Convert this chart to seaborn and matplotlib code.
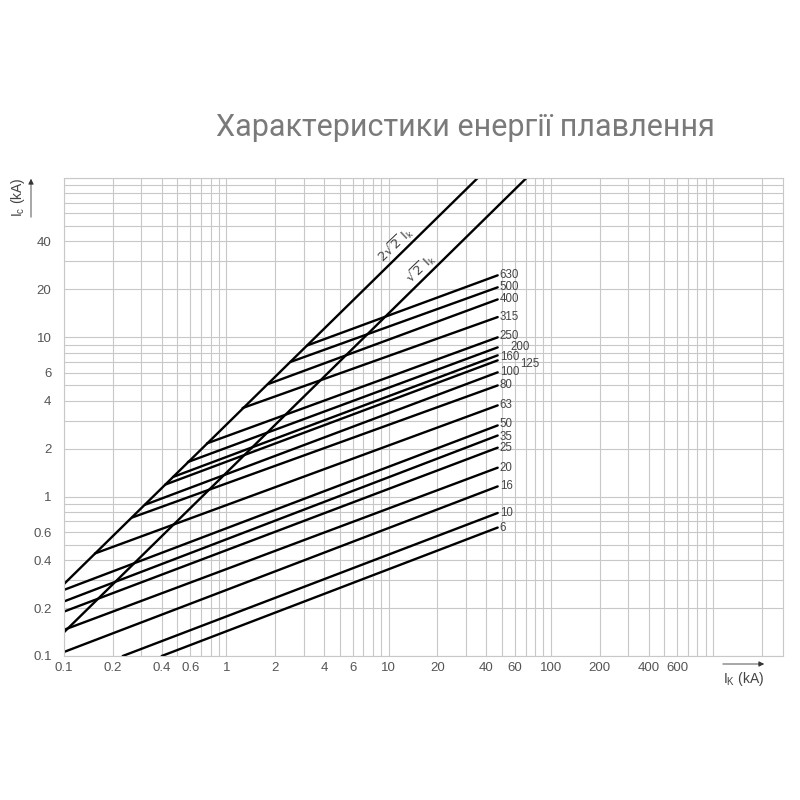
import matplotlib
matplotlib.use('Agg')
import matplotlib.pyplot as plt
import matplotlib.ticker as mticker
import numpy as np
import pandas as pd
import seaborn as sns

# fuse ratings (A) and the cut-off lines
ratings = [630, 500, 400, 315, 250, 200, 160, 125, 100, 80, 63, 50, 35, 25, 20, 16, 10, 6]
ik_start = [3.16, 2.48, 1.82, 1.26, 0.76, 0.58, 0.47, 0.42, 0.316, 0.263, 0.155,
            0.1, 0.1, 0.1, 0.1, 0.1, 0.23, 0.4]
ic_start = [8.9, 7.0, 5.1, 3.6, 2.16, 1.65, 1.33, 1.19, 0.89, 0.74, 0.44,
            0.26, 0.22, 0.19, 0.146, 0.106, 0.1, 0.1]
ik_end = [47] * len(ratings)
ic_end = [24.5, 20.6, 17.3, 13.4, 10.0, 8.65, 7.71, 7.17, 6.03, 4.99, 3.74,
          2.8, 2.42, 2.03, 1.52, 1.16, 0.79, 0.64]

# peak current lines
peak_names = ['2√2 Ik', '√2 Ik']
peak_ik = [[0.1, 35.4], [0.1, 70.7]]
peak_ic = [[0.283, 100], [0.141, 100]]

x_ticks = [0.1, 0.2, 0.4, 0.6, 1, 2, 4, 6, 10, 20, 40, 60, 100, 200, 400, 600]
y_ticks = [0.1, 0.2, 0.4, 0.6, 1, 2, 4, 6, 10, 20, 40]

sns.set_style('white')
plt.rcParams['font.family'] = ['Liberation Sans', 'DejaVu Sans']

rows = []
for r, x0, y0, x1, y1 in zip(ratings, ik_start, ic_start, ik_end, ic_end):
    rows.append({'name': str(r), 'Ik': x0, 'Ic': y0})
    rows.append({'name': str(r), 'Ik': x1, 'Ic': y1})
for n, xs, ys in zip(peak_names, peak_ik, peak_ic):
    for x, y in zip(xs, ys):
        rows.append({'name': n, 'Ik': x, 'Ic': y})
df = pd.DataFrame(rows)

fig = plt.figure(figsize=(8, 8), dpi=100)
ax = fig.add_axes([0.08, 0.18, 0.899, 0.5975])

sns.lineplot(data=df, x='Ik', y='Ic', units='name', estimator=None,
             color='black', linewidth=1.7, ax=ax, legend=False)

ax.set_xscale('log')
ax.set_yscale('log')
ax.set_xlim(0.1, 2700)
ax.set_ylim(0.1, 100)

grid_c = '#c8c8c8'
ax.xaxis.set_major_locator(mticker.FixedLocator(x_ticks))
ax.xaxis.set_major_formatter(mticker.FixedFormatter([f'{t:g}' for t in x_ticks]))
ax.yaxis.set_major_locator(mticker.FixedLocator(y_ticks))
ax.yaxis.set_major_formatter(mticker.FixedFormatter([f'{t:g}' for t in y_ticks]))
ax.xaxis.set_minor_locator(mticker.LogLocator(base=10, subs=np.arange(1, 10), numticks=20))
ax.yaxis.set_minor_locator(mticker.LogLocator(base=10, subs=np.arange(1, 10), numticks=20))
ax.xaxis.set_minor_formatter(mticker.NullFormatter())
ax.yaxis.set_minor_formatter(mticker.NullFormatter())
ax.grid(which='both', color=grid_c, linewidth=0.8)
ax.tick_params(which='both', length=0, labelsize=9.5, colors='#555555')
ax.tick_params(axis='y', pad=9)
ax.tick_params(axis='x', pad=4)
for s in ax.spines.values():
    s.set_color(grid_c)
    s.set_linewidth(0.8)
ax.set_xlabel('')
ax.set_ylabel('')

# labels at the right end of each fuse line (nudges in pixels)
nudge = {'250': (2, 1.5), '200': (13, 0), '160': (2, -1.5), '125': (22, -4),
         '50': (2, 1.5), '35': (2, -1)}
for r, x1, y1 in zip(ratings, ik_end, ic_end):
    dx, dy = nudge.get(str(r), (2, 0))
    ax.annotate(str(r), (x1, y1), xytext=(dx * 0.72, dy * 0.72),
                textcoords='offset points', ha='left', va='center',
                fontsize=8.3, color='#444444')

ax.text(11.0, 38.5, r'$2\sqrt{2}\ \mathregular{I_k}$', rotation=44, ha='center',
        va='center', fontsize=9.5, color='#444444')
ax.text(15.8, 27.2, r'$\sqrt{2}\ \mathregular{I_k}$', rotation=44, ha='center',
        va='center', fontsize=9.5, color='#444444')

# axis arrows and titles
fig.patches.append(matplotlib.patches.FancyArrowPatch(
    (31 / 800, 1 - 220 / 800), (31 / 800, 1 - 176 / 800), transform=fig.transFigure,
    arrowstyle='-|>', mutation_scale=8, color='#333333', linewidth=0.6))
fig.text(18 / 800, 1 - 197 / 800, r'I$_\mathregular{c}$ (kA)', rotation=90,
         ha='center', va='center', fontsize=10, color='#444444')
fig.patches.append(matplotlib.patches.FancyArrowPatch(
    (720 / 800, 1 - 664 / 800), (767 / 800, 1 - 664 / 800), transform=fig.transFigure,
    arrowstyle='-|>', mutation_scale=8, color='#333333', linewidth=0.6))
fig.text(744 / 800, 1 - 679 / 800, r'I$_\mathregular{K}$ (kA)',
         ha='center', va='center', fontsize=10, color='#444444')

fig.text(465 / 800, 1 - 127 / 800, 'Характеристики енергії плавлення',
         ha='center', va='center', fontsize=22, color='#7a7a7a',
         family=['Roboto', 'DejaVu Sans'])

fig.savefig('out.png', dpi=100, facecolor='white')
